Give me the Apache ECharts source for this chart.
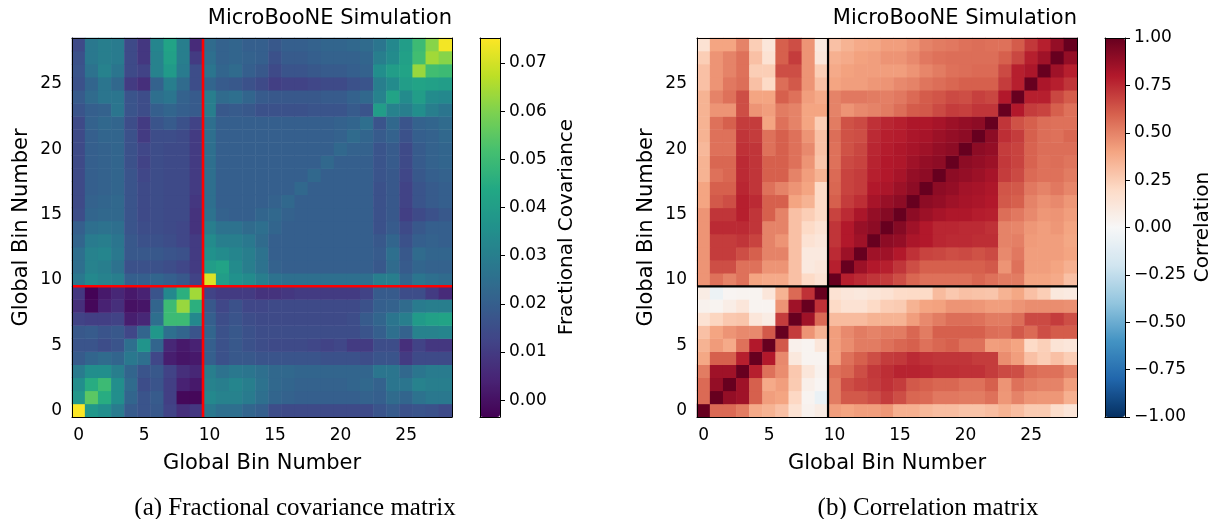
<!DOCTYPE html>
<html><head><meta charset="utf-8">
<script src="https://cdn.jsdelivr.net/npm/echarts@6/dist/echarts.min.js"></script>
<style>html,body{margin:0;padding:0;background:#fff}#c{width:1219px;height:519px}</style>
</head><body><div id="c"></div>
<script>
// ---------------- data ----------------
const binLabels = ['0','1','2','3','4','5','6','7','8','9','10','11','12','13','14','15','16','17','18','19','20','21','22','23','24','25','26','27','28'];
const tickLabels = ['0','5','10','15','20','25'];
const blockEdge = 9.5;           // boundary between the two channels
const covRange = [-0.0035, 0.0752];
const covTicks = [0, 0.01, 0.02, 0.03, 0.04, 0.05, 0.06, 0.07];
const corrRange = [-1, 1];
const corrTicks = [-1, -0.75, -0.5, -0.25, 0, 0.25, 0.5, 0.75, 1];

// fractional covariance, row = y bin (0 at bottom), column = x bin
const covRows = [
[0.075,0.038,0.035,0.029,0.019,0.017,0.018,0.012,0.007,0.009, 0.028,0.025,0.025,0.022,0.020,0.015,0.014,0.014,0.014,0.014,0.014,0.014,0.014,0.017,0.019,0.016,0.017,0.016,0.014],
[0.038,0.055,0.045,0.035,0.022,0.017,0.019,0.011,-0.002,-0.002, 0.033,0.031,0.031,0.029,0.025,0.022,0.021,0.020,0.020,0.020,0.020,0.020,0.021,0.020,0.024,0.022,0.026,0.028,0.028],
[0.035,0.045,0.050,0.035,0.024,0.015,0.017,0.011,0.004,0.002, 0.031,0.030,0.032,0.030,0.026,0.023,0.022,0.021,0.021,0.021,0.021,0.022,0.023,0.021,0.027,0.027,0.031,0.030,0.030],
[0.029,0.035,0.035,0.030,0.022,0.017,0.018,0.012,0.007,0.005, 0.030,0.026,0.028,0.027,0.025,0.023,0.023,0.022,0.022,0.022,0.022,0.022,0.022,0.027,0.027,0.023,0.027,0.029,0.029],
[0.019,0.022,0.024,0.022,0.028,0.025,0.013,0.003,0.001,0.002, 0.020,0.016,0.018,0.018,0.017,0.017,0.017,0.017,0.017,0.016,0.016,0.016,0.015,0.017,0.017,0.010,0.014,0.014,0.014],
[0.017,0.017,0.015,0.017,0.025,0.037,0.022,0.005,0.002,0.004, 0.020,0.016,0.018,0.016,0.015,0.014,0.014,0.014,0.013,0.012,0.013,0.010,0.010,0.015,0.015,0.007,0.012,0.009,0.009],
[0.018,0.019,0.017,0.018,0.013,0.022,0.038,0.025,0.022,0.017, 0.022,0.016,0.018,0.016,0.015,0.015,0.015,0.015,0.015,0.015,0.015,0.015,0.017,0.020,0.025,0.021,0.031,0.031,0.032],
[0.012,0.011,0.011,0.012,0.003,0.005,0.025,0.050,0.050,0.033, 0.020,0.015,0.017,0.015,0.014,0.014,0.014,0.014,0.014,0.014,0.014,0.015,0.019,0.022,0.027,0.030,0.039,0.041,0.042],
[0.007,-0.002,0.004,0.007,0.000,0.001,0.022,0.050,0.063,0.046, 0.018,0.013,0.016,0.013,0.013,0.014,0.014,0.014,0.014,0.014,0.014,0.014,0.016,0.020,0.021,0.024,0.029,0.030,0.030],
[0.009,-0.003,0.002,0.005,0.002,0.004,0.017,0.033,0.046,0.064, 0.012,0.010,0.010,0.010,0.008,0.008,0.009,0.010,0.010,0.010,0.010,0.010,0.012,0.019,0.019,0.015,0.015,0.010,0.006],
[0.028,0.033,0.031,0.030,0.020,0.020,0.022,0.020,0.018,0.012, 0.071,0.040,0.036,0.034,0.030,0.026,0.025,0.025,0.025,0.025,0.025,0.025,0.025,0.030,0.030,0.022,0.027,0.025,0.024],
[0.025,0.031,0.030,0.026,0.016,0.016,0.016,0.015,0.013,0.010, 0.040,0.042,0.034,0.030,0.026,0.021,0.020,0.020,0.020,0.020,0.020,0.020,0.020,0.018,0.024,0.019,0.022,0.021,0.021],
[0.025,0.031,0.032,0.028,0.018,0.018,0.018,0.017,0.016,0.010, 0.036,0.034,0.032,0.030,0.026,0.020,0.020,0.020,0.020,0.020,0.020,0.020,0.020,0.019,0.025,0.018,0.024,0.022,0.022],
[0.022,0.029,0.030,0.027,0.018,0.016,0.016,0.015,0.013,0.010, 0.034,0.030,0.030,0.028,0.024,0.020,0.020,0.020,0.020,0.020,0.020,0.020,0.020,0.018,0.022,0.016,0.020,0.021,0.020],
[0.020,0.025,0.026,0.025,0.017,0.015,0.015,0.014,0.013,0.008, 0.030,0.026,0.026,0.024,0.025,0.022,0.020,0.020,0.020,0.020,0.020,0.020,0.020,0.016,0.019,0.014,0.018,0.020,0.020],
[0.015,0.022,0.023,0.023,0.017,0.014,0.015,0.014,0.014,0.008, 0.026,0.021,0.020,0.020,0.022,0.023,0.021,0.020,0.020,0.020,0.020,0.020,0.020,0.016,0.018,0.011,0.014,0.016,0.018],
[0.014,0.021,0.022,0.023,0.017,0.014,0.015,0.014,0.014,0.009, 0.025,0.020,0.020,0.020,0.020,0.021,0.023,0.020,0.020,0.020,0.020,0.020,0.020,0.016,0.018,0.012,0.017,0.019,0.020],
[0.014,0.020,0.021,0.022,0.017,0.014,0.015,0.014,0.014,0.010, 0.025,0.020,0.020,0.020,0.020,0.020,0.020,0.023,0.020,0.020,0.020,0.020,0.020,0.016,0.018,0.012,0.017,0.019,0.020],
[0.014,0.020,0.021,0.022,0.017,0.013,0.015,0.014,0.014,0.010, 0.025,0.020,0.020,0.020,0.020,0.020,0.020,0.020,0.023,0.020,0.020,0.020,0.020,0.017,0.018,0.013,0.018,0.020,0.021],
[0.014,0.020,0.021,0.022,0.016,0.012,0.015,0.014,0.014,0.010, 0.025,0.020,0.020,0.020,0.020,0.020,0.020,0.020,0.020,0.023,0.020,0.020,0.020,0.017,0.019,0.014,0.019,0.021,0.022],
[0.014,0.020,0.021,0.022,0.016,0.013,0.015,0.014,0.014,0.010, 0.025,0.020,0.020,0.020,0.020,0.020,0.020,0.020,0.020,0.020,0.023,0.021,0.021,0.017,0.019,0.014,0.019,0.021,0.022],
[0.014,0.020,0.022,0.022,0.016,0.010,0.015,0.015,0.014,0.010, 0.025,0.020,0.020,0.020,0.020,0.020,0.020,0.020,0.020,0.020,0.021,0.024,0.022,0.019,0.021,0.016,0.020,0.021,0.023],
[0.014,0.021,0.023,0.022,0.015,0.010,0.017,0.019,0.016,0.012, 0.025,0.020,0.020,0.020,0.020,0.020,0.020,0.020,0.020,0.020,0.021,0.022,0.025,0.017,0.023,0.017,0.021,0.022,0.024],
[0.017,0.020,0.021,0.027,0.017,0.015,0.020,0.022,0.020,0.019, 0.030,0.018,0.019,0.018,0.016,0.016,0.016,0.016,0.017,0.017,0.017,0.019,0.017,0.040,0.031,0.030,0.035,0.030,0.027],
[0.019,0.024,0.027,0.027,0.017,0.015,0.025,0.027,0.021,0.019, 0.030,0.024,0.025,0.022,0.019,0.018,0.018,0.018,0.018,0.019,0.019,0.021,0.023,0.031,0.042,0.034,0.040,0.034,0.033],
[0.016,0.022,0.027,0.023,0.010,0.007,0.021,0.030,0.024,0.015, 0.022,0.019,0.018,0.016,0.014,0.011,0.012,0.012,0.013,0.014,0.014,0.016,0.017,0.030,0.034,0.040,0.042,0.041,0.040],
[0.017,0.026,0.031,0.027,0.014,0.012,0.031,0.039,0.029,0.015, 0.027,0.022,0.024,0.020,0.018,0.014,0.017,0.017,0.018,0.019,0.019,0.020,0.021,0.035,0.040,0.042,0.063,0.051,0.050],
[0.016,0.028,0.030,0.029,0.014,0.009,0.031,0.041,0.030,0.010, 0.025,0.021,0.022,0.021,0.020,0.016,0.019,0.019,0.020,0.021,0.021,0.021,0.022,0.030,0.034,0.041,0.051,0.064,0.061],
[0.014,0.028,0.030,0.029,0.014,0.009,0.032,0.042,0.030,0.006, 0.024,0.021,0.022,0.020,0.020,0.018,0.020,0.020,0.021,0.022,0.022,0.023,0.024,0.027,0.033,0.040,0.050,0.061,0.074]
];

// correlation, row = y bin (0 at bottom), column = x bin
const corrRows = [
[1.00,0.57,0.57,0.52,0.38,0.35,0.30,0.15,0.04,0.08, 0.42,0.40,0.42,0.42,0.44,0.36,0.36,0.33,0.31,0.31,0.29,0.29,0.31,0.35,0.31,0.26,0.26,0.18,0.13],
[0.57,1.00,0.88,0.85,0.60,0.42,0.40,0.21,0.03,-0.07, 0.52,0.62,0.62,0.65,0.70,0.65,0.58,0.57,0.53,0.53,0.52,0.52,0.55,0.44,0.50,0.45,0.44,0.44,0.36],
[0.57,0.88,1.00,0.85,0.60,0.38,0.42,0.26,0.06,0.02, 0.52,0.65,0.68,0.70,0.73,0.70,0.62,0.60,0.58,0.58,0.55,0.55,0.60,0.45,0.55,0.52,0.50,0.50,0.42],
[0.52,0.85,0.85,1.00,0.78,0.55,0.47,0.27,0.12,0.04, 0.55,0.58,0.65,0.71,0.74,0.77,0.77,0.76,0.74,0.74,0.73,0.73,0.70,0.66,0.65,0.57,0.55,0.55,0.50],
[0.39,0.60,0.60,0.78,1.00,0.80,0.48,0.11,0.03,0.03, 0.42,0.55,0.60,0.65,0.70,0.71,0.75,0.73,0.72,0.72,0.72,0.70,0.70,0.47,0.42,0.30,0.25,0.30,0.25],
[0.35,0.43,0.38,0.55,0.80,1.00,0.62,0.05,0.03,0.12, 0.42,0.47,0.52,0.52,0.55,0.58,0.60,0.55,0.58,0.60,0.55,0.55,0.42,0.43,0.40,0.20,0.24,0.14,0.12],
[0.30,0.40,0.45,0.48,0.48,0.62,1.00,0.70,0.45,0.35, 0.42,0.48,0.52,0.50,0.52,0.52,0.58,0.52,0.60,0.60,0.60,0.60,0.56,0.55,0.62,0.57,0.65,0.61,0.61],
[0.15,0.22,0.27,0.28,0.12,0.08,0.70,1.00,0.85,0.57, 0.32,0.32,0.32,0.35,0.35,0.35,0.42,0.48,0.52,0.56,0.56,0.55,0.52,0.52,0.56,0.66,0.66,0.70,0.65],
[0.04,0.03,0.07,0.12,0.03,0.03,0.45,0.85,1.00,0.73, 0.20,0.15,0.15,0.20,0.25,0.26,0.35,0.40,0.41,0.45,0.45,0.44,0.42,0.42,0.45,0.47,0.47,0.47,0.46],
[0.08,-0.06,0.02,0.03,0.03,0.12,0.35,0.57,0.73,1.00, 0.15,0.12,0.11,0.13,0.15,0.19,0.20,0.20,0.32,0.27,0.30,0.29,0.28,0.35,0.39,0.30,0.25,0.11,0.09],
[0.45,0.55,0.50,0.55,0.40,0.38,0.38,0.30,0.20,0.15, 1.00,0.78,0.75,0.72,0.70,0.65,0.58,0.55,0.55,0.55,0.55,0.58,0.55,0.52,0.52,0.40,0.40,0.38,0.30],
[0.45,0.65,0.65,0.55,0.55,0.45,0.45,0.30,0.10,0.12, 0.78,1.00,0.86,0.80,0.78,0.72,0.65,0.60,0.60,0.60,0.60,0.60,0.62,0.45,0.55,0.42,0.42,0.40,0.36],
[0.45,0.70,0.70,0.65,0.60,0.50,0.50,0.30,0.10,0.10, 0.75,0.86,1.00,0.85,0.85,0.80,0.73,0.68,0.67,0.65,0.66,0.64,0.66,0.48,0.53,0.42,0.42,0.42,0.40],
[0.45,0.70,0.70,0.72,0.68,0.50,0.45,0.30,0.15,0.12, 0.72,0.80,0.85,1.00,0.90,0.88,0.82,0.80,0.76,0.75,0.75,0.74,0.74,0.50,0.51,0.43,0.42,0.42,0.39],
[0.45,0.75,0.75,0.75,0.72,0.50,0.50,0.30,0.20,0.15, 0.72,0.80,0.87,0.90,1.00,0.92,0.85,0.80,0.76,0.76,0.75,0.75,0.73,0.50,0.49,0.44,0.42,0.44,0.40],
[0.45,0.72,0.72,0.78,0.72,0.60,0.50,0.30,0.25,0.20, 0.68,0.75,0.82,0.88,0.92,1.00,0.90,0.86,0.83,0.81,0.81,0.79,0.78,0.56,0.53,0.48,0.44,0.45,0.42],
[0.40,0.62,0.65,0.78,0.75,0.60,0.60,0.40,0.35,0.20, 0.60,0.70,0.74,0.83,0.87,0.90,1.00,0.90,0.88,0.85,0.83,0.82,0.80,0.62,0.60,0.50,0.46,0.48,0.44],
[0.40,0.60,0.60,0.76,0.72,0.55,0.50,0.45,0.40,0.20, 0.58,0.68,0.70,0.80,0.82,0.86,0.90,1.00,0.90,0.88,0.84,0.83,0.81,0.63,0.62,0.53,0.50,0.53,0.49],
[0.35,0.55,0.58,0.75,0.72,0.60,0.60,0.50,0.42,0.35, 0.57,0.68,0.70,0.78,0.80,0.83,0.88,0.90,1.00,0.90,0.88,0.86,0.83,0.70,0.66,0.57,0.55,0.55,0.52],
[0.35,0.58,0.58,0.75,0.72,0.60,0.60,0.55,0.45,0.28, 0.55,0.66,0.68,0.77,0.80,0.81,0.85,0.88,0.90,1.00,0.90,0.88,0.86,0.71,0.68,0.59,0.55,0.56,0.54],
[0.33,0.55,0.55,0.73,0.72,0.55,0.60,0.55,0.48,0.30, 0.55,0.64,0.67,0.76,0.79,0.81,0.83,0.85,0.88,0.90,1.00,0.90,0.88,0.70,0.68,0.59,0.56,0.56,0.56],
[0.35,0.55,0.55,0.72,0.70,0.55,0.60,0.55,0.45,0.30, 0.56,0.64,0.65,0.75,0.78,0.79,0.82,0.83,0.86,0.88,0.90,1.00,0.90,0.74,0.70,0.60,0.56,0.55,0.58],
[0.35,0.55,0.60,0.70,0.70,0.40,0.55,0.50,0.40,0.25, 0.52,0.64,0.66,0.73,0.76,0.78,0.81,0.81,0.83,0.86,0.88,0.90,1.00,0.72,0.64,0.60,0.56,0.55,0.55],
[0.35,0.45,0.45,0.65,0.45,0.42,0.52,0.50,0.40,0.40, 0.50,0.45,0.48,0.50,0.52,0.56,0.61,0.62,0.66,0.70,0.69,0.72,0.72,1.00,0.80,0.70,0.68,0.60,0.55],
[0.35,0.50,0.55,0.65,0.40,0.40,0.60,0.55,0.42,0.38, 0.50,0.53,0.53,0.52,0.51,0.53,0.57,0.61,0.63,0.66,0.65,0.69,0.67,0.80,1.00,0.78,0.78,0.67,0.61],
[0.30,0.45,0.53,0.56,0.30,0.20,0.56,0.62,0.45,0.30, 0.40,0.42,0.42,0.44,0.45,0.48,0.50,0.54,0.56,0.58,0.60,0.60,0.60,0.70,0.78,1.00,0.82,0.78,0.72],
[0.30,0.45,0.50,0.55,0.25,0.25,0.65,0.65,0.45,0.25, 0.38,0.41,0.42,0.42,0.42,0.42,0.45,0.49,0.52,0.55,0.56,0.57,0.57,0.66,0.78,0.82,1.00,0.85,0.78],
[0.25,0.45,0.50,0.55,0.30,0.15,0.60,0.70,0.45,0.12, 0.36,0.38,0.41,0.42,0.45,0.45,0.48,0.53,0.55,0.56,0.56,0.56,0.56,0.60,0.67,0.78,0.85,1.00,0.88],
[0.15,0.40,0.40,0.50,0.25,0.12,0.60,0.65,0.45,0.10, 0.30,0.35,0.38,0.39,0.42,0.42,0.45,0.50,0.52,0.53,0.55,0.56,0.55,0.55,0.61,0.71,0.78,0.88,1.00]
];

// ---------------- styling ----------------
const viridis = ['#440154','#482475','#414487','#355f8d','#2a788e','#21918c','#22a884','#44bf70','#7ad151','#bddf26','#fde725'];
const rdbu = ['#053061','#2166ac','#4393c3','#92c5de','#d1e5f0','#f7f7f7','#fddbc7','#f4a582','#d6604d','#b2182b','#67001f'];
const FONT = 'DejaVu Sans';
const panels = [
  {left: 72,  cb: 480, rows: covRows,  range: covRange,  ticks: covTicks,  colors: viridis, line: '#ff0000', lineW: 2.6,
   title: 'MicroBooNE Simulation', cbName: 'Fractional Covariance', cbNameX: 567, caption: '(a) Fractional covariance matrix', capX: 295},
  {left: 697, cb: 1105, rows: corrRows, range: corrRange, ticks: corrTicks, colors: rdbu, line: '#000000', lineW: 2.2,
   title: 'MicroBooNE Simulation', cbName: 'Correlation', cbNameX: 1203, caption: '(b) Correlation matrix', capX: 928}
];
const TOP = 38, W = 380, H = 379, CBW = 20;

function cells(rows) {
  const out = [];
  rows.forEach((r, i) => r.forEach((v, j) => out.push([j, i, v])));
  return out;
}
const showTick = (i, v) => tickLabels.indexOf(String(v)) >= 0;
const fmt = v => (v < 0 ? '\u2212' : '') + Math.abs(v).toFixed(2);

const grid = [], xAxis = [], yAxis = [], series = [], visualMap = [], graphic = [];
const blk = {color: '#000', width: 1};
const frameLine = {show: true, onZero: false, lineStyle: blk};
const noDecor = {axisTick: {show: false}, axisLabel: {show: false}, splitLine: {show: false}};
panels.forEach((p, k) => {
  const g = grid.length;
  grid.push({left: p.left, top: TOP, width: W, height: H});
  grid.push({left: p.cb, top: TOP, width: CBW, height: H});
  const xa = xAxis.length, ya = yAxis.length;
  // heatmap category axes
  xAxis.push({gridIndex: g, type: 'category', data: binLabels, position: 'bottom', z: 10,
    axisLine: frameLine, splitLine: {show: false},
    axisTick: {alignWithLabel: true, interval: showTick, length: 5, lineStyle: blk},
    axisLabel: {interval: showTick, fontSize: 17, color: '#000', margin: 10, fontFamily: FONT},
    name: 'Global Bin Number', nameLocation: 'middle', nameGap: 36,
    nameTextStyle: {fontSize: 21, color: '#000', fontFamily: FONT}});
  yAxis.push({gridIndex: g, type: 'category', data: binLabels, position: 'left', z: 10,
    axisLine: frameLine, splitLine: {show: false},
    axisTick: {alignWithLabel: true, interval: showTick, length: 5, lineStyle: blk},
    axisLabel: {interval: showTick, fontSize: 17, color: '#000', margin: 10, fontFamily: FONT},
    name: 'Global Bin Number', nameLocation: 'middle', nameGap: 40, nameRotate: 90,
    nameTextStyle: {fontSize: 21, color: '#000', fontFamily: FONT}});
  // overlay value axes (frame + block lines)
  xAxis.push(Object.assign({gridIndex: g, type: 'value', position: 'top', min: -0.5, max: binLabels.length - 0.5, z: 10,
    axisLine: frameLine}, noDecor));
  yAxis.push(Object.assign({gridIndex: g, type: 'value', position: 'right', min: -0.5, max: binLabels.length - 0.5, z: 10,
    axisLine: frameLine}, noDecor));
  // colorbar axes
  xAxis.push(Object.assign({gridIndex: g + 1, type: 'value', position: 'bottom', min: 0, max: 1, z: 10, axisLine: frameLine}, noDecor));
  xAxis.push(Object.assign({gridIndex: g + 1, type: 'value', position: 'top', min: 0, max: 1, z: 10, axisLine: frameLine}, noDecor));
  yAxis.push({gridIndex: g + 1, type: 'value', position: 'right', min: p.range[0], max: p.range[1], z: 10,
    axisLine: frameLine, splitLine: {show: false},
    axisTick: {show: true, customValues: p.ticks, length: 5, lineStyle: blk},
    axisLabel: {customValues: p.ticks, formatter: fmt, fontSize: 17, color: '#000', margin: 9, fontFamily: FONT}});
  yAxis.push(Object.assign({gridIndex: g + 1, type: 'value', position: 'left', min: p.range[0], max: p.range[1], z: 10,
    axisLine: frameLine}, noDecor));

  const si = series.length;
  series.push({type: 'heatmap', xAxisIndex: xa, yAxisIndex: ya, data: cells(p.rows),
    itemStyle: {borderWidth: 0}, emphasis: {disabled: true}, silent: true, progressive: 0});
  const lineStyle = {color: p.line, width: p.lineW};
  series.push({type: 'line', xAxisIndex: xa + 1, yAxisIndex: ya + 1, symbol: 'none', silent: true, z: 5,
    lineStyle, data: [[blockEdge, -0.5], [blockEdge, binLabels.length - 0.5]]});
  series.push({type: 'line', xAxisIndex: xa + 1, yAxisIndex: ya + 1, symbol: 'none', silent: true, z: 5,
    lineStyle, data: [[-0.5, blockEdge], [binLabels.length - 0.5, blockEdge]]});

  visualMap.push({type: 'continuous', seriesIndex: si, dimension: 2, min: p.range[0], max: p.range[1],
    inRange: {color: p.colors}, left: p.cb, top: TOP, itemWidth: CBW, itemHeight: H, padding: 0,
    calculable: false, hoverLink: false, text: null, orient: 'vertical'});

  graphic.push({type: 'text', right: 1219 - (p.left + W), top: 8,
    style: {text: p.title, font: '21px "' + FONT + '"', fill: '#000'}});
  graphic.push({type: 'text', x: p.cbNameX, y: 227, rotation: Math.PI / 2,
    style: {text: p.cbName, font: '20px "' + FONT + '"', fill: '#000', align: 'center', verticalAlign: 'middle'}});
  graphic.push({type: 'text', x: p.capX, y: 508,
    style: {text: p.caption, font: '25px "Liberation Serif"', fill: '#000', align: 'center', verticalAlign: 'middle'}});
});

const chart = echarts.init(document.getElementById('c'), null, {renderer: 'canvas'});
chart.setOption({animation: false, backgroundColor: '#fff', textStyle: {fontFamily: FONT},
  grid, xAxis, yAxis, series, visualMap, graphic});
</script></body></html>
